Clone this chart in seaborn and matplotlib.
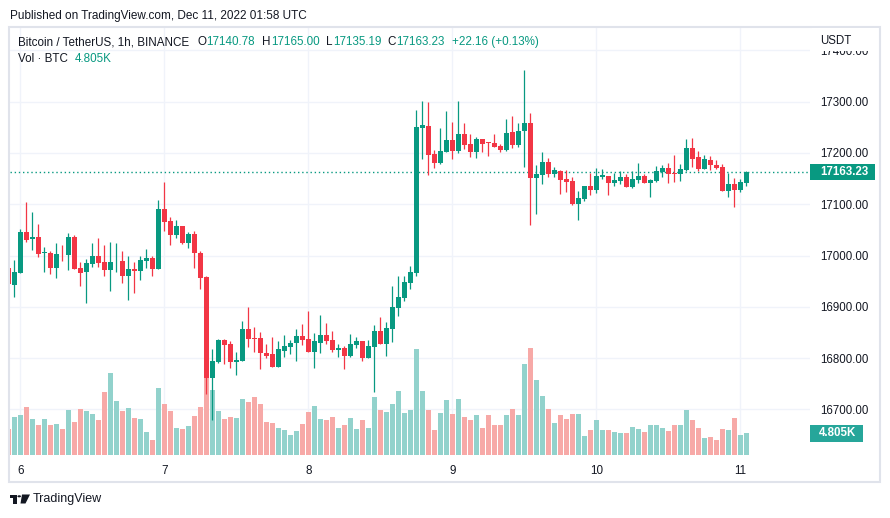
import matplotlib
matplotlib.use("Agg")
import matplotlib.pyplot as plt
from matplotlib.patches import Rectangle, Polygon, Circle
import numpy as np
import pandas as pd
import seaborn as sns

# BTC/USDT 1h candles, Dec 5 22:00 -> Dec 11 01:00 UTC
times = pd.date_range("2022-12-05 22:00", periods=124, freq="h")

opens = [
    16976.4, 16943.2, 16966.6, 17045.9, 17032.9, 17036.1, 17004.3, 17004.9, 16976.4, 17003.0,
    17001.7, 17036.1, 16975.8, 16968.6, 16984.2, 16998.5, 16987.4, 16972.5, 16986.5, 16989.4,
    16960.8, 16973.8, 16970.5, 16990.0, 16995.2, 16973.8, 17090.7, 17067.3, 17040.1, 17057.6,
    17024.5, 17042.0, 17004.9, 16958.2, 16761.3, 16792.5, 16835.4, 16827.6, 16792.5, 16794.4,
    16856.8, 16839.3, 16839.3, 16810.0, 16808.1, 16782.8, 16813.9, 16821.7, 16829.5, 16843.2,
    16837.3, 16812.0, 16829.5, 16845.1, 16835.4, 16815.9, 16819.8, 16804.2, 16825.6, 16833.4,
    16800.3, 16821.7, 16852.9, 16827.6, 16856.8, 16897.7, 16917.2, 16946.5, 16966.0, 17248.6,
    17252.5, 17198.0, 17180.4, 17201.9, 17225.2, 17203.8, 17236.9, 17217.4, 17201.9, 17227.2,
    17221.3, 17219.4, 17213.6, 17205.8, 17240.8, 17215.5, 17242.8, 17258.4, 17151.2, 17157.0,
    17182.4, 17159.0, 17164.8, 17149.2, 17145.3, 17100.5, 17110.2, 17135.6, 17127.8, 17153.1,
    17155.1, 17141.4, 17145.3, 17153.1, 17133.6, 17147.3, 17155.1, 17141.4, 17145.3, 17162.9,
    17170.7, 17160.0, 17159.0, 17166.8, 17209.7, 17192.1, 17168.7, 17186.3, 17176.5, 17172.6,
    17125.8, 17139.4, 17127.8, 17140.78,
]
highs = [
    16982.0, 16991.4, 17052.4, 17104.4, 17084.9, 17061.5, 17016.0, 17009.5, 17024.5, 17020.6,
    17043.9, 17040.1, 16987.4, 16993.3, 17024.5, 17034.2, 17020.6, 17026.4, 17024.5, 17008.9,
    16998.5, 16988.1, 16998.5, 17012.8, 16998.5, 17108.3, 17143.3, 17075.1, 17069.3, 17058.5,
    17045.9, 17047.9, 17008.9, 16960.1, 16817.8, 16837.3, 16837.3, 16833.4, 16812.0, 16872.4,
    16899.7, 16860.7, 16850.9, 16827.6, 16841.2, 16833.4, 16845.1, 16835.4, 16856.8, 16866.6,
    16891.9, 16849.0, 16884.1, 16868.5, 16852.9, 16827.6, 16823.7, 16847.1, 16841.2, 16834.0,
    16835.4, 16864.6, 16880.2, 16870.5, 16940.6, 16960.1, 16960.1, 16979.6, 17283.7, 17301.9,
    17300.0, 17205.8, 17248.6, 17281.8, 17260.3, 17301.9, 17258.4, 17236.9, 17231.1, 17228.0,
    17222.0, 17236.9, 17217.4, 17266.2, 17272.0, 17258.4, 17361.7, 17277.9, 17176.5, 17201.9,
    17190.2, 17172.6, 17166.0, 17166.8, 17153.1, 17125.8, 17136.0, 17160.9, 17170.7, 17168.7,
    17155.8, 17160.9, 17164.8, 17159.0, 17164.8, 17180.4, 17159.0, 17149.2, 17174.6, 17176.5,
    17180.4, 17196.0, 17178.5, 17227.2, 17229.1, 17203.8, 17196.0, 17194.1, 17186.3, 17178.5,
    17160.9, 17151.2, 17149.2, 17165.00,
]
lows = [
    16938.0, 16919.8, 16965.0, 17026.4, 17010.8, 16997.2, 16968.0, 16964.7, 16956.9, 16989.4,
    16972.5, 16973.0, 16940.6, 16908.1, 16977.7, 16978.4, 16960.8, 16931.5, 16968.0, 16947.1,
    16914.0, 16927.6, 16952.3, 16976.4, 16960.1, 16973.0, 17047.9, 17020.6, 17034.2, 17022.5,
    17014.7, 16975.8, 16934.8, 16730.1, 16679.4, 16790.6, 16788.6, 16780.8, 16767.2, 16794.0,
    16821.7, 16812.0, 16778.9, 16800.3, 16782.0, 16782.0, 16802.2, 16808.1, 16794.4, 16825.6,
    16811.5, 16780.8, 16810.0, 16827.6, 16812.0, 16802.2, 16778.9, 16802.2, 16819.8, 16794.4,
    16800.0, 16734.7, 16827.0, 16804.2, 16831.5, 16882.2, 16911.4, 16934.8, 16960.1, 17188.2,
    17157.0, 17170.7, 17178.5, 17201.0, 17188.2, 17199.9, 17207.7, 17192.1, 17190.2, 17201.9,
    17194.1, 17211.0, 17201.9, 17203.8, 17209.7, 17211.6, 17172.6, 17059.5, 17081.0, 17139.4,
    17153.1, 17153.1, 17120.0, 17123.9, 17098.6, 17069.3, 17106.3, 17118.0, 17121.9, 17149.2,
    17118.0, 17135.6, 17139.4, 17133.0, 17131.7, 17141.4, 17141.0, 17114.1, 17143.3, 17153.1,
    17141.4, 17143.3, 17145.3, 17164.8, 17172.6, 17164.8, 17168.0, 17166.8, 17168.7, 17125.0,
    17114.1, 17094.6, 17123.9, 17135.19,
]
closes = [
    16943.9, 16968.0, 17045.9, 17030.3, 17036.1, 17003.7, 17005.6, 16976.4, 17003.0, 17002.0,
    17036.1, 16973.8, 16966.6, 16985.5, 16998.5, 16986.1, 16972.5, 16987.4, 16987.4, 16960.8,
    16973.8, 16970.5, 16991.4, 16995.2, 16973.8, 17090.7, 17065.4, 17040.1, 17057.6, 17024.5,
    17042.0, 17004.9, 16956.2, 16761.3, 16793.8, 16835.4, 16825.6, 16792.5, 16796.4, 16856.8,
    16837.3, 16838.0, 16810.0, 16804.2, 16782.8, 16817.8, 16823.7, 16829.5, 16843.2, 16835.4,
    16812.0, 16833.4, 16845.1, 16833.4, 16815.9, 16819.8, 16804.2, 16827.6, 16833.4, 16800.3,
    16823.7, 16852.9, 16827.6, 16858.8, 16899.7, 16919.2, 16948.4, 16968.0, 17250.6, 17254.5,
    17196.0, 17180.4, 17203.8, 17225.2, 17203.8, 17236.9, 17215.5, 17201.9, 17227.2, 17217.4,
    17218.7, 17211.6, 17205.8, 17238.9, 17215.5, 17242.8, 17258.4, 17151.2, 17159.0, 17182.4,
    17159.0, 17166.8, 17147.3, 17143.3, 17100.5, 17112.2, 17135.6, 17127.8, 17155.1, 17157.0,
    17141.4, 17147.3, 17153.1, 17133.6, 17149.2, 17155.1, 17141.4, 17147.3, 17164.8, 17170.7,
    17159.0, 17159.0, 17168.7, 17209.7, 17188.2, 17168.7, 17188.2, 17176.5, 17170.7, 17125.8,
    17139.4, 17127.8, 17143.3, 17163.23,
]
# volume in thousands of BTC
volumes = [
    5.68, 8.30, 8.74, 10.48, 7.86, 6.55, 7.86, 6.55, 6.77, 5.68,
    9.83, 7.21, 10.05, 9.61, 8.95, 7.64, 13.76, 17.91, 11.79, 9.61,
    10.26, 8.08, 7.86, 5.02, 3.28, 14.63, 11.14, 9.61, 5.90, 5.68,
    6.33, 8.52, 10.48, 16.82, 14.20, 9.61, 7.86, 8.30, 8.08, 12.23,
    11.58, 12.67, 11.14, 7.21, 6.99, 5.90, 5.46, 4.37, 5.24, 6.77,
    9.39, 10.70, 7.86, 7.64, 8.30, 5.90, 6.55, 8.08, 5.68, 7.64,
    5.90, 12.67, 9.83, 9.39, 11.14, 13.98, 9.17, 9.83, 23.15, 13.98,
    9.83, 5.46, 9.17, 12.01, 8.95, 12.23, 8.30, 7.64, 8.74, 5.90,
    8.74, 6.55, 6.55, 8.74, 10.05, 8.74, 19.87, 23.37, 16.38, 12.89,
    10.05, 6.99, 8.74, 7.86, 8.95, 8.95, 4.15, 5.46, 7.64, 5.46,
    5.46, 5.02, 4.81, 4.81, 6.12, 5.68, 5.02, 6.55, 6.55, 5.90,
    5.24, 6.55, 6.55, 9.83, 7.64, 5.90, 3.71, 3.93, 3.28, 5.68,
    5.46, 8.08, 4.37, 4.805,
]

price_ticks = [16700, 16800, 16900, 17000, 17100, 17200, 17300, 17400]
last_price = 17163.23
last_volume = "4.805K"
ohlc_labels = ["O", "H", "L", "C"]
ohlc_values = ["17140.78", "17165.00", "17135.19", "17163.23"]
change_text = "+22.16 (+0.13%)"

UP = "#089981"
DOWN = "#f23645"
VOL_UP = "#92d2cc"
VOL_DOWN = "#f7a9a7"
TEXT = "#131722"
GRID = "#f0f3fa"
BORDER = "#e0e3eb"

df = pd.DataFrame({"time": times, "open": opens, "high": highs, "low": lows,
                   "close": closes, "volume": volumes})
df["hour"] = (df["time"] - pd.Timestamp("2022-12-06")) / pd.Timedelta(hours=1)
df["dir"] = np.where(df["close"] >= df["open"], "up", "down")

sns.set_theme(style="white")
plt.rcParams["font.family"] = ["Liberation Sans", "DejaVu Sans"]

W, H = 890, 518
fig = plt.figure(figsize=(W / 100, H / 100), dpi=100)


def fx(px):
    return px / W


def fy(py):
    return 1 - py / H


# plot pane in pixels
L, R, T, B = 10, 810, 27, 455
ax_vol = fig.add_axes([fx(L), fy(B), (R - L) / W, (B - T) / H])
ax = ax_vol.twinx()

ymin, ymax = 16610.9, 17445.7
xmin, xmax = -1.72, 131.62

# volume histogram behind the candles
sns.barplot(data=df, x="hour", y="volume", hue="dir", native_scale=True,
            palette={"up": VOL_UP, "down": VOL_DOWN}, dodge=False, width=0.84,
            saturation=1, errorbar=None, legend=False, ax=ax_vol, linewidth=0)
ax_vol.set_ylim(0, 93.5)
ax_vol.set_xlim(xmin, xmax)
ax_vol.set_facecolor("white")

# grid drawn on the back axes so bars sit over it
day_pos = df["hour"][df["time"].dt.hour == 0].tolist()
day_lbl = [str(t.day) for t in df["time"][df["time"].dt.hour == 0]]
for d in day_pos:
    ax_vol.axvline(d, color=GRID, lw=1, zorder=0.5)
for p in price_ticks:
    f = (p - ymin) / (ymax - ymin)
    ax_vol.plot([0, 1], [f, f], transform=ax_vol.transAxes, color=GRID, lw=1, zorder=0.5)

ax_vol.set_xticks(day_pos)
ax_vol.set_xticklabels(day_lbl)
ax_vol.set_yticks([])
ax_vol.set_xlabel("")
ax_vol.set_ylabel("")
ax_vol.tick_params(axis="x", length=0, pad=7, labelsize=8.4, labelcolor=TEXT)

# candles
colors = np.where(df["dir"] == "up", UP, DOWN)
ax.vlines(df["hour"], df["low"], df["high"], colors=colors, lw=0.9, zorder=2)
body_lo = np.minimum(df["open"], df["close"])
body_h = np.maximum(np.abs(df["close"] - df["open"]), 1.6)
ax.bar(df["hour"], body_h, bottom=body_lo, width=0.8, color=colors, lw=0, zorder=3)

ax.set_ylim(ymin, ymax)
ax.set_xlim(xmin, xmax)
ax.set_yticks(price_ticks)
ax.set_yticklabels([f"{p:.2f}" for p in price_ticks])
ax.tick_params(axis="y", length=0, pad=7.2, labelsize=8.3, labelcolor=TEXT)
ax.set_ylabel("")

for a in (ax, ax_vol):
    for s in a.spines.values():
        s.set_visible(False)

# last price line and labels
ax.axhline(last_price, color=UP, lw=1, ls=(0, (1, 2)), zorder=1)
ppu = (B - T) / (ymax - ymin)
ytr = ax.get_yaxis_transform()
ax.add_patch(Rectangle((1.0, last_price - 8 / ppu), 65 / (R - L), 16 / ppu,
                       transform=ytr, clip_on=False, fc=UP, ec="none"))
ax.text(1.0 + 10 / (R - L), last_price, f"{last_price:.2f}", transform=ytr,
        ha="left", va="center", color="white", fontsize=8.3, fontweight="bold")

vpu = (B - T) / 93.5
vtr = ax_vol.get_yaxis_transform()
vlast = df["volume"].iloc[-1]
ax_vol.add_patch(Rectangle((1.0, vlast - 8.5 / vpu), 53 / (R - L), 17 / vpu,
                           transform=vtr, clip_on=False, fc="#26a69a", ec="none", zorder=5))
ax_vol.text(1.0 + 9 / (R - L), vlast, last_volume, transform=vtr, ha="left",
            va="center", color="white", fontsize=8.3, fontweight="bold", zorder=6)

# outer frame and the USDT caption over the clipped top label
fig.patches.append(Rectangle((fx(9), fy(482)), (880 - 9) / W, (482 - 27) / H,
                             transform=fig.transFigure, fill=False, ec=BORDER, lw=1.5))
fig.patches.append(Rectangle((fx(812), fy(50.5)), 66 / W, 22.5 / H, transform=fig.transFigure,
                             fc="white", ec="none", zorder=2))
fig.text(fx(820), fy(40.5), "USDT", color=TEXT, fontsize=8.3, va="center", zorder=3)

fig.text(fx(10), fy(15.5), "Published on TradingView.com, Dec 11, 2022 01:58 UTC",
         color=TEXT, fontsize=8.5, va="center")

renderer = fig.canvas.get_renderer()


def text_run(x, y, pieces):
    for s, c, gap in pieces:
        t = fig.text(fx(x), fy(y), s, color=c, fontsize=8.4, va="center", zorder=4)
        x = t.get_window_extent(renderer).x1 + gap


line1 = [("Bitcoin / TetherUS, 1h, BINANCE", TEXT, 8)]
for k, v in zip(ohlc_labels, ohlc_values):
    line1 += [(k, TEXT, 0.5), (v, UP, 6.5)]
line1.append((change_text, UP, 0))
text_run(18, 42, line1)
text_run(18, 59, [("Vol · BTC", TEXT, 7), (last_volume, UP, 0)])

# TradingView logo
logo = [
    Rectangle((fx(10), fy(497.5)), 6.5 / W, 3 / H),
    Rectangle((fx(13), fy(503.5)), 3.5 / W, 9 / H),
    Polygon([(fx(22), fy(494.5)), (fx(30), fy(494.5)), (fx(25.5), fy(503.5)), (fx(20.5), fy(503.5))]),
]
for patch in logo:
    patch.set_transform(fig.transFigure)
    patch.set_facecolor(TEXT)
    patch.set_edgecolor("none")
    fig.patches.append(patch)
dot = Circle((fx(19.2), fy(496.3)), 1.8 / W, transform=fig.transFigure, fc=TEXT, ec="none")
fig.patches.append(dot)
fig.text(fx(33), fy(499), "TradingView", color=TEXT, fontsize=9, va="center")

fig.savefig("out.png", dpi=100, facecolor="white")
